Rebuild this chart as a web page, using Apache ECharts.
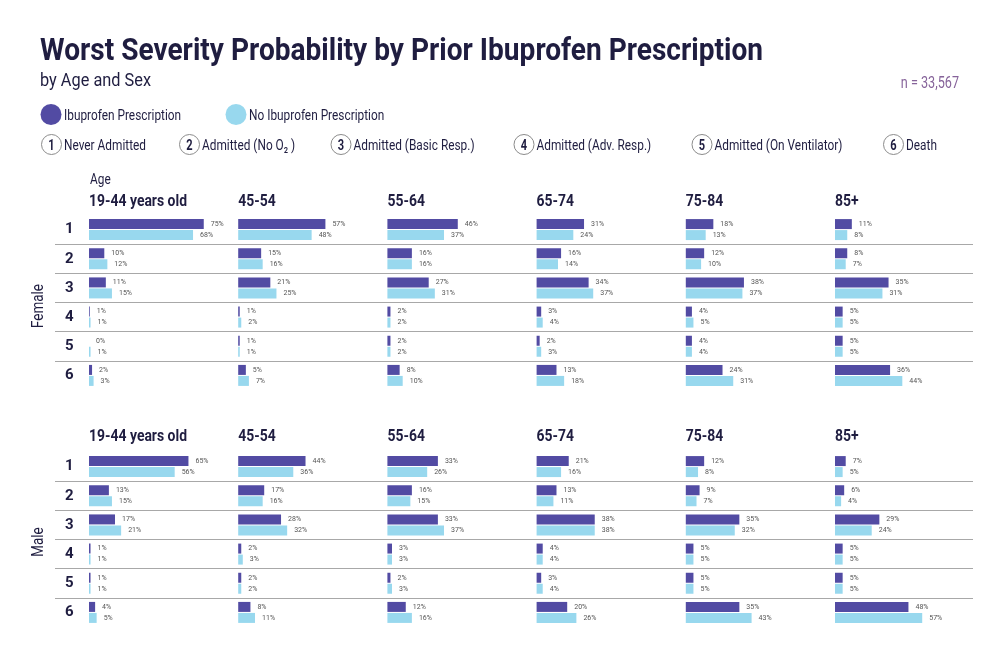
<!DOCTYPE html>
<html>
<head>
<meta charset="utf-8">
<script src="https://cdn.jsdelivr.net/npm/echarts@6/dist/echarts.min.js"></script>
<style>
  html, body { margin: 0; padding: 0; background: #fff; }
  #main { width: 1000px; height: 667px; }
</style>
</head>
<body>
<div id="main"></div>
<script>
var ageGroups = ['19-44 years old', '45-54', '55-64', '65-74', '75-84', '85+'];
var severity = ['1', '2', '3', '4', '5', '6'];
var severityNames = ['Never Admitted', 'Admitted (No O\u2082 )', 'Admitted (Basic Resp.)', 'Admitted (Adv. Resp.)', 'Admitted (On Ventilator)', 'Death'];
var seriesNames = ['Ibuprofen Prescription', 'No Ibuprofen Prescription'];

// one row per age group, values for severity 1..6 (%)
var femaleIbu = [
    [75, 10, 11, 0.5, 0, 2],
    [57, 15, 21, 1, 1, 5],
    [46, 16, 27, 2, 2, 8],
    [31, 16, 34, 3, 2, 13],
    [18, 12, 38, 4, 4, 24],
    [11, 8, 35, 5, 5, 36]
];
var femaleNoIbu = [
    [68, 12, 15, 1, 1, 3],
    [48, 16, 25, 2, 1, 7],
    [37, 16, 31, 2, 2, 10],
    [24, 14, 37, 4, 3, 18],
    [13, 10, 37, 5, 4, 31],
    [8, 7, 31, 5, 5, 44]
];
var maleIbu = [
    [65, 13, 17, 1, 1, 4],
    [44, 17, 28, 2, 2, 8],
    [33, 16, 33, 3, 2, 12],
    [21, 13, 38, 4, 3, 20],
    [12, 9, 35, 5, 5, 35],
    [7, 6, 29, 5, 5, 48]
];
var maleNoIbu = [
    [56, 15, 21, 1, 1, 5],
    [36, 16, 32, 3, 2, 11],
    [26, 15, 37, 3, 3, 16],
    [16, 11, 38, 4, 4, 26],
    [8, 7, 32, 5, 5, 43],
    [5, 4, 24, 5, 5, 57]
];

var darkColor = '#524ba3';
var lightColor = '#98d8ee';
var navy = '#1f1d40';
var font = 'Roboto, sans-serif';

// measure a string in Roboto, used to squeeze it to a condensed width
function textWidth(str, size, weight) {
    var ctx = document.createElement('canvas').getContext('2d');
    ctx.font = (weight || 'normal') + ' ' + size + 'px Roboto';
    return ctx.measureText(str).width;
}
var legendSqueeze = 82 / textWidth('Never Admitted', 15);
var headSqueeze = 98 / textWidth('19-44 years old', 17, 'bold');

// condensed text element (y is the visual middle of the caps)
function ctext(x, y, str, size, opts) {
    opts = opts || {};
    var rot = opts.rotation || 0;
    var shift = 2;
    return {
        type: 'text',
        x: x + (rot ? shift : 0),
        y: y + (rot ? 0 : shift),
        scaleX: opts.scaleX || legendSqueeze,
        rotation: rot,
        style: {
            text: str, fontFamily: font, fontSize: size,
            fontWeight: opts.weight || 'normal',
            fill: opts.fill || navy,
            textAlign: opts.align || 'left',
            textVerticalAlign: 'middle'
        }
    };
}

var sections = [
    { name: 'Female', top: 215, ibu: femaleIbu, noIbu: femaleNoIbu, headerY: 200, labelY: 306 },
    { name: 'Male', top: 452, ibu: maleIbu, noIbu: maleNoIbu, headerY: 435, labelY: 542 }
];
var gridH = 175;
var panelLeft = 89, panelStep = 149.2, panelW = 140, xMax = 91.5;

var grids = [], xAxes = [], yAxes = [], series = [], graphics = [];

sections.forEach(function (sec, s) {
    // frame grid: row numbers and separators
    var fi = grids.length;
    grids.push({ left: 55, top: sec.top, width: 918, height: gridH });
    xAxes.push({ gridIndex: fi, type: 'value', show: false });
    yAxes.push({
        gridIndex: fi, type: 'category', data: severity, inverse: true,
        axisLine: { show: false }, axisTick: { show: false },
        axisLabel: { inside: true, margin: 10, interval: 0, fontFamily: font, fontWeight: 'bold', fontSize: 15, color: navy },
        splitLine: { show: true, interval: 0, showMinLine: false, showMaxLine: false, lineStyle: { color: '#a8a8a8', width: 1 } }
    });

    graphics.push(ctext(37, sec.labelY, sec.name, 17, { rotation: Math.PI / 2, align: 'center' }));

    ageGroups.forEach(function (age, a) {
        var gi = grids.length;
        var left = panelLeft + a * panelStep;
        grids.push({ left: left, top: sec.top, width: panelW, height: gridH });
        xAxes.push({ gridIndex: gi, type: 'value', min: 0, max: xMax, show: false });
        yAxes.push({ gridIndex: gi, type: 'category', data: severity, inverse: true, show: false });

        graphics.push(ctext(left, sec.headerY, age, 17, { weight: 'bold', scaleX: headSqueeze }));

        [sec.ibu[a], sec.noIbu[a]].forEach(function (vals, k) {
            series.push({
                name: seriesNames[k],
                type: 'bar',
                xAxisIndex: gi,
                yAxisIndex: gi,
                data: vals,
                barWidth: 10,
                barGap: '10%',
                itemStyle: { color: k === 0 ? darkColor : lightColor },
                label: {
                    show: true, position: 'right', distance: 7,
                    fontSize: 7, color: '#555', fontFamily: font,
                    formatter: function (p) { return Math.round(p.value) + '%'; }
                },
                silent: true
            });
        });
    });
});

// title block
var titleText = 'Worst Severity Probability by Prior Ibuprofen Prescription';
graphics.push(ctext(40, 50, titleText, 32, { weight: 'bold', scaleX: 723 / textWidth(titleText, 32, 'bold') }));
graphics.push(ctext(40, 79.5, 'by Age and Sex', 19, { scaleX: 111 / textWidth('by Age and Sex', 19) }));
graphics.push(ctext(959, 82, 'n = 33,567', 16, { fill: '#86639a', align: 'right' }));

// "Age" heading
graphics.push(ctext(90, 178, 'Age', 15));

// series legend
var legendPos = [[51, 64], [236, 249]];
seriesNames.forEach(function (n, k) {
    graphics.push({
        type: 'circle', shape: { cx: legendPos[k][0], cy: 114.5, r: 10.5 },
        style: { fill: k === 0 ? darkColor : lightColor }
    });
    graphics.push(ctext(legendPos[k][1], 114.5, n, 15));
});

// severity legend
var sevLegendX = [51.5, 189.5, 341, 524, 702, 893.5];
severityNames.forEach(function (n, i) {
    var cx = sevLegendX[i];
    graphics.push({
        type: 'circle', shape: { cx: cx, cy: 144.5, r: 10 },
        style: { fill: '#fff', stroke: '#8c8c8c', lineWidth: 1 }
    });
    graphics.push(ctext(cx, 144.5, severity[i], 14, { weight: 'bold', align: 'center' }));
    graphics.push(ctext(cx + 12.5, 144.5, n, 15));
});

var myChart = echarts.init(document.getElementById('main'), null, { renderer: 'canvas' });
myChart.setOption({
    animation: false,
    backgroundColor: '#fff',
    grid: grids,
    xAxis: xAxes,
    yAxis: yAxes,
    series: series,
    graphic: graphics
});
</script>
</body>
</html>
